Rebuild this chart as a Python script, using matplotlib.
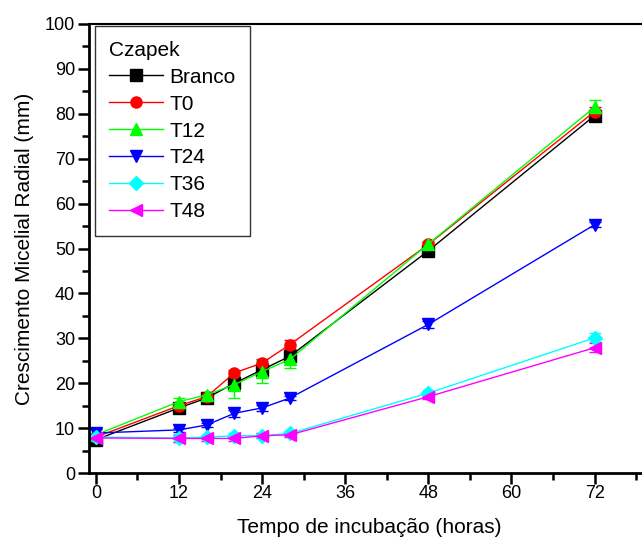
import numpy as np
import matplotlib
matplotlib.use("Agg")
import matplotlib.pyplot as plt
from matplotlib.ticker import MultipleLocator

plt.rcParams['font.family'] = ['Liberation Sans', 'DejaVu Sans']

# incubation time (hours)
hours = [0, 12, 16, 20, 24, 28, 48, 72]

branco = [7.4, 14.5, 16.7, 20.0, 23.0, 26.0, 49.5, 79.6]
branco_err = [0.8, 0.6, 0.5, 0.8, 0.8, 0.8, 0.6, 0.6]
t0 = [8.0, 15.0, 17.0, 22.3, 24.5, 28.6, 50.9, 80.5]
t0_err = [0.5, 0.6, 0.5, 0.6, 1.0, 1.0, 0.6, 1.0]
t12 = [8.5, 15.9, 17.4, 19.7, 22.6, 25.3, 51.0, 81.5]
t12_err = [0.5, 0.8, 0.6, 3.0, 2.5, 2.0, 0.6, 1.5]
t24 = [8.9, 9.6, 10.7, 13.3, 14.5, 16.7, 33.1, 55.3]
t24_err = [0.8, 0.5, 0.5, 0.8, 0.6, 0.5, 0.8, 0.6]
t36 = [8.0, 7.8, 8.0, 8.3, 8.3, 8.8, 17.8, 30.1]
t36_err = [0.8, 0.8, 0.5, 0.6, 0.6, 0.6, 0.6, 1.0]
t48 = [7.8, 7.7, 7.7, 7.7, 8.3, 8.5, 17.0, 27.9]
t48_err = [0.5, 0.8, 0.5, 0.6, 0.5, 0.5, 0.6, 1.0]

series = [
    ("Branco", branco, branco_err, "black", "s"),
    ("T0", t0, t0_err, "red", "o"),
    ("T12", t12, t12_err, "#00ff00", "^"),
    ("T24", t24, t24_err, "blue", "v"),
    ("T36", t36, t36_err, "cyan", "D"),
    ("T48", t48, t48_err, "magenta", "<"),
]

fig = plt.figure(figsize=(6.42, 5.43), dpi=100)
ax = fig.add_axes([89 / 642, 70 / 543, 561 / 642, 449 / 543])

handles = []
for name, vals, err, color, marker in series:
    ms = 7 if marker == "D" else 8
    cont = ax.errorbar(hours, vals, yerr=err, color=color, marker=marker, markersize=ms,
                       linewidth=1, elinewidth=1, capsize=4, label=name)
    handles.append(cont.lines[0])

ax.set_xlim(-1, 80)
ax.set_ylim(0, 100)
ax.xaxis.set_major_locator(MultipleLocator(12))
ax.xaxis.set_minor_locator(MultipleLocator(6))
ax.yaxis.set_major_locator(MultipleLocator(10))
ax.yaxis.set_minor_locator(MultipleLocator(5))
ax.set_xticks([0, 12, 24, 36, 48, 60, 72])

ax.spines['right'].set_visible(False)
ax.spines['left'].set_linewidth(2)
ax.spines['bottom'].set_linewidth(2)
ax.spines['top'].set_linewidth(1.5)
ax.tick_params(which='major', direction='out', length=8, width=1.8, labelsize=13, pad=2)
ax.tick_params(which='minor', direction='out', length=5, width=1.8)
ax.tick_params(axis='x', which='major', pad=1)

ax.set_xlabel("Tempo de incubação (horas)", fontsize=15, labelpad=11)
ax.set_ylabel("Crescimento Micelial Radial (mm)", fontsize=15, labelpad=8)

leg = ax.legend(handles=handles, labels=[s[0] for s in series], title="Czapek",
                loc='upper left', bbox_to_anchor=(0.01, 0.995),
                fontsize=15, title_fontsize=15, frameon=True, fancybox=False,
                edgecolor='black', handlelength=2.6, handletextpad=0.3,
                borderpad=0.7, labelspacing=0.38, borderaxespad=0)
leg._legend_box.align = "left"
leg.get_frame().set_linewidth(1)

fig.savefig("out.png", dpi=100)
